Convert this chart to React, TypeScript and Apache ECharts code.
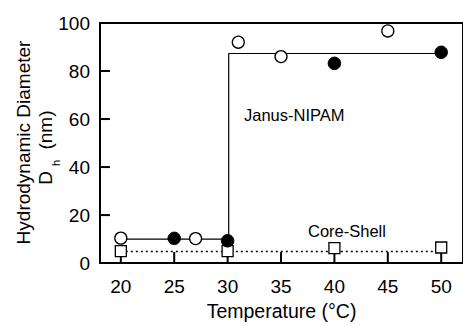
import React, { useEffect, useRef } from "react";
import * as echarts from "echarts";

const xTicks = [20, 25, 30, 35, 40, 45, 50];
const yTicks = [20, 40, 60, 80];
const janusOpen: [number, number][] = [
  [20, 10.4],
  [27, 10.2],
  [31, 92],
  [35, 86],
  [45, 96.7],
];
const janusFilled: [number, number][] = [
  [25, 10.3],
  [30, 9.3],
  [40, 83.2],
  [50, 87.8],
];
const coreShell: [number, number][] = [
  [20, 5.0],
  [30, 5.0],
  [40, 6.2],
  [50, 6.5],
];
const janusFit: [number, number][] = [
  [20, 10],
  [30.1, 10],
  [30.1, 87.3],
  [50, 87.3],
];
const coreShellFit: [number, number][] = [
  [20, 4.8],
  [50, 4.8],
];

const X_MIN = 18.05;
const X_MAX = 52.04;
const FONT = "Liberation Sans, Arial, Helvetica, sans-serif";

export default function App() {
  const ref = useRef<HTMLDivElement>(null);
  useEffect(() => {
    if (!ref.current) return;
    const chart = echarts.init(ref.current, null, { renderer: "svg" });
    chart.setOption({
      animation: false,
      backgroundColor: "#ffffff",
      grid: {
        left: 100,
        top: 23,
        right: -3,
        bottom: 60,
        show: true,
        borderColor: "#000",
        borderWidth: 2,
        backgroundColor: "transparent",
      },
      xAxis: {
        type: "value",
        min: X_MIN,
        max: X_MAX,
        name: "Temperature (°C)",
        nameLocation: "middle",
        nameGap: 37,
        nameTextStyle: { fontSize: 19.5, color: "#000", fontFamily: FONT },
        axisLine: { show: true, lineStyle: { color: "#000", width: 2 } },
        axisTick: { show: false },
        axisLabel: {
          customValues: xTicks,
          margin: 14,
          fontSize: 19,
          color: "#000",
          fontFamily: FONT,
        },
        splitLine: { show: false },
      },
      yAxis: {
        type: "value",
        min: 0,
        max: 100,
        interval: 20,
        axisLine: { show: true, lineStyle: { color: "#000", width: 2 } },
        axisTick: { show: false },
        axisLabel: {
          margin: 10,
          fontSize: 19,
          color: "#000",
          fontFamily: FONT,
        },
        splitLine: { show: false },
      },
      series: [
        {
          type: "scatter",
          clip: false,
          silent: true,
          data: xTicks.map((v) => [v, 0]),
          symbol: "rect",
          symbolSize: [2, 11],
          symbolOffset: [0, -5.5],
          itemStyle: { color: "#000", opacity: 1 },
          z: 4,
        },
        {
          type: "scatter",
          clip: false,
          silent: true,
          data: yTicks.map((v) => [X_MIN, v]),
          symbol: "rect",
          symbolSize: [10, 2],
          symbolOffset: [5, 0],
          itemStyle: { color: "#000", opacity: 1 },
          z: 4,
        },
        {
          type: "line",
          data: janusFit,
          symbol: "none",
          lineStyle: { color: "#000", width: 1.2 },
        },
        {
          type: "line",
          data: coreShellFit,
          symbol: "none",
          lineStyle: { color: "#000", width: 1.5, type: [2, 3] },
        },
        {
          type: "scatter",
          data: coreShell,
          symbol: "rect",
          symbolSize: 11,
          itemStyle: { color: "#fff", borderColor: "#000", borderWidth: 1.3, opacity: 1 },
          z: 5,
        },
        {
          type: "scatter",
          data: janusOpen,
          symbol: "circle",
          symbolSize: 12,
          itemStyle: { color: "#fff", borderColor: "#000", borderWidth: 1.3, opacity: 1 },
          z: 5,
        },
        {
          type: "scatter",
          data: janusFilled,
          symbol: "circle",
          symbolSize: 12.5,
          itemStyle: { color: "#000", borderColor: "#000", borderWidth: 1, opacity: 1 },
          z: 5,
        },
      ],
      graphic: [
        {
          type: "text",
          x: 23,
          y: 142.5,
          rotation: Math.PI / 2,
          style: {
            text: "Hydrodynamic Diameter",
            fontSize: 19,
            fontFamily: FONT,
            fill: "#000",
            align: "center",
            verticalAlign: "middle",
          },
        },
        {
          type: "text",
          x: 45,
          y: 178,
          rotation: Math.PI / 2,
          style: {
            text: "D",
            fontSize: 19,
            fontFamily: FONT,
            fill: "#000",
            align: "center",
            verticalAlign: "middle",
          },
        },
        {
          type: "text",
          x: 56,
          y: 163,
          rotation: Math.PI / 2,
          style: {
            text: "h",
            fontSize: 11,
            fontFamily: FONT,
            fill: "#000",
            align: "center",
            verticalAlign: "middle",
          },
        },
        {
          type: "text",
          x: 45,
          y: 130,
          rotation: Math.PI / 2,
          style: {
            text: "(nm)",
            fontSize: 19,
            fontFamily: FONT,
            fill: "#000",
            align: "center",
            verticalAlign: "middle",
          },
        },
        {
          type: "text",
          x: 244,
          y: 115,
          style: {
            text: "Janus-NIPAM",
            fontSize: 16.5,
            fontFamily: FONT,
            fill: "#000",
            align: "left",
            verticalAlign: "middle",
          },
        },
        {
          type: "text",
          x: 308,
          y: 231,
          style: {
            text: "Core-Shell",
            fontSize: 16.5,
            fontFamily: FONT,
            fill: "#000",
            align: "left",
            verticalAlign: "middle",
          },
        },
      ],
    });
    return () => chart.dispose();
  }, []);
  return (
    <div
      ref={ref}
      style={{ position: "fixed", left: 0, top: 0, width: 463, height: 326 }}
    />
  );
}
